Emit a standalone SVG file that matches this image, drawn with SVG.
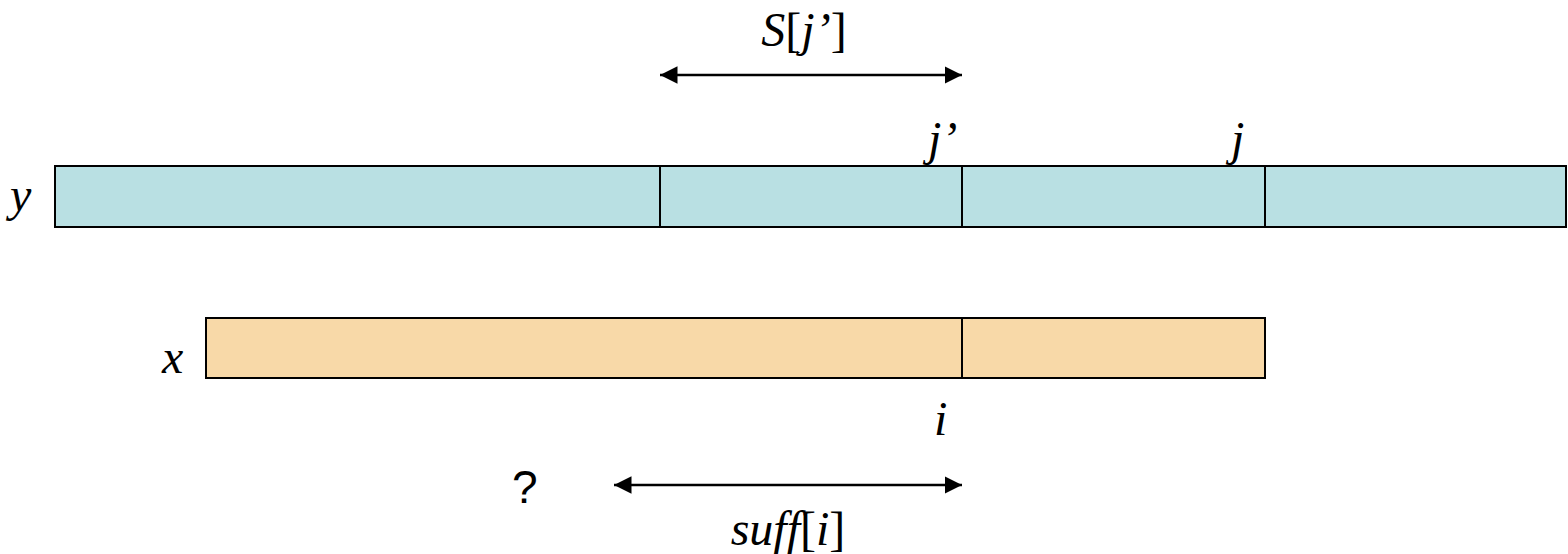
<svg xmlns="http://www.w3.org/2000/svg" width="1568" height="554" viewBox="0 0 1568 554">
<style>
.lbl{font-family:"Liberation Serif",serif;font-style:italic;font-size:48px;fill:#000}
.rom{font-style:normal}
.ybar{fill:#b9e0e3;stroke:#000;stroke-width:2}
.xbar{fill:#f8d9a8;stroke:#000;stroke-width:2}
.div{stroke:#000;stroke-width:2}
.arr{stroke:#000;stroke-width:2.5;fill:none;marker-start:url(#ah);marker-end:url(#ah)}
</style>
<defs>
<marker id="ah" viewBox="0 0 10 10" refX="10" refY="5" markerWidth="7" markerHeight="7" orient="auto-start-reverse" markerUnits="strokeWidth">
<path d="M0,0 L10,5 L0,10 Z" fill="#000"/>
</marker>
</defs>
<g id="ystring">
<rect class="ybar" x="55" y="166" width="1511" height="61"/>
<line class="div" x1="660" y1="166" x2="660" y2="227"/>
<line class="div" x1="962" y1="166" x2="962" y2="227"/>
<line class="div" x1="1265" y1="166" x2="1265" y2="227"/>
<text class="lbl" x="10" y="211">y</text>
<text class="lbl" x="928" y="155">j’</text>
<text class="lbl" x="1231" y="155">j</text>
</g>
<g id="xstring">
<rect class="xbar" x="206" y="318" width="1059" height="60"/>
<line class="div" x1="962" y1="318" x2="962" y2="378"/>
<text class="lbl" x="162" y="373">x</text>
<text class="lbl" x="934" y="435">i</text>
</g>
<g id="connectors">
<line class="arr" x1="660" y1="75" x2="962" y2="75"/>
<line class="arr" x1="614" y1="485" x2="962" y2="485"/>
</g>
<g id="labels">
<text class="lbl" x="804" y="46" text-anchor="middle">S<tspan class="rom">[</tspan>j’<tspan class="rom">]</tspan></text>
<text class="lbl" x="788" y="545" text-anchor="middle">suff<tspan class="rom">[</tspan>i<tspan class="rom">]</tspan></text>
<text x="512" y="503" style="font-family:'Liberation Sans',Arial,sans-serif;font-size:46px">?</text>
</g>
</svg>
